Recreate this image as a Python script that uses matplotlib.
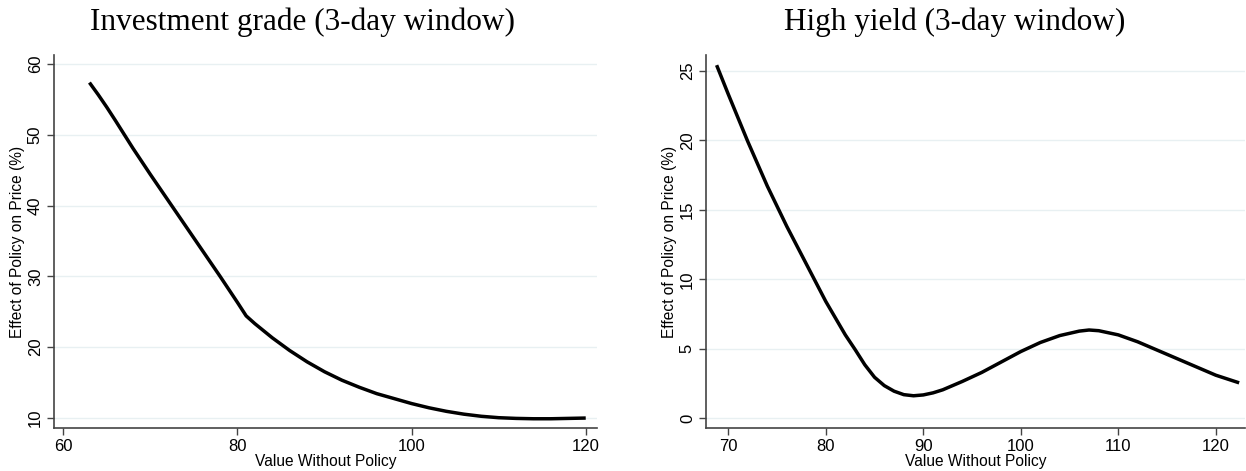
import matplotlib.pyplot as plt

# investment grade curve
ig_x = [63, 64, 65, 66, 68, 70, 72, 74, 76, 78, 80, 81, 82, 84, 86, 88, 90,
        92, 94, 96, 98, 100, 102, 104, 106, 108, 110, 112, 114, 116, 118, 120]
ig_y = [57.4, 55.7, 53.9, 52.0, 48.1, 44.4, 40.8, 37.2, 33.6, 30.0, 26.3, 24.4,
        23.3, 21.3, 19.5, 17.9, 16.5, 15.3, 14.3, 13.4, 12.7, 12.0, 11.4, 10.9,
        10.5, 10.2, 10.0, 9.9, 9.85, 9.85, 9.9, 9.95]

# high yield curve
hy_x = [68.8, 70, 72, 74, 76, 78, 80, 82, 83, 84, 85, 86, 87, 88, 89, 90, 91,
        92, 94, 96, 98, 100, 102, 104, 106, 107, 108, 110, 112, 114, 116, 118,
        120, 122.4]
hy_y = [25.4, 23.3, 19.9, 16.7, 13.8, 11.1, 8.4, 6.0, 4.95, 3.85, 2.95, 2.35,
        1.95, 1.7, 1.62, 1.68, 1.83, 2.05, 2.65, 3.3, 4.05, 4.8, 5.45, 5.95,
        6.27, 6.35, 6.3, 6.0, 5.5, 4.9, 4.3, 3.7, 3.1, 2.55]

ig_xticks = [60, 80, 100, 120]
ig_yticks = [10, 20, 30, 40, 50, 60]
hy_xticks = [70, 80, 90, 100, 110, 120]
hy_yticks = [0, 5, 10, 15, 20, 25]

plt.rcParams['font.family'] = ['Liberation Sans', 'DejaVu Sans']

fig = plt.figure(figsize=(12.46, 4.71), dpi=100)
ax1 = fig.add_axes([54/1246, 1 - 428.3/471, (596.7 - 54)/1246, (428.3 - 55)/471])
ax2 = fig.add_axes([706/1246, 1 - 428.3/471, (1245 - 706)/1246, (428.3 - 55)/471])

panels = [
    (ax1, ig_x, ig_y, ig_xticks, ig_yticks, (58.93, 121.26), (8.5, 61.3)),
    (ax2, hy_x, hy_y, hy_xticks, hy_yticks, (67.71, 123.0), (-0.72, 26.13)),
]
for ax, x, y, xt, yt, xl, yl in panels:
    ax.plot(x, y, color='black', lw=2.5, solid_capstyle='butt')
    ax.set_xlim(*xl)
    ax.set_ylim(*yl)
    ax.set_xticks(xt)
    ax.set_yticks(yt)
    ax.set_yticklabels([str(v) for v in yt], rotation=90, va='center')
    ax.grid(axis='y', color='#e8f0f2', lw=1)
    ax.set_axisbelow(True)
    for s in ['top', 'right']:
        ax.spines[s].set_visible(False)
    for s in ['left', 'bottom']:
        ax.spines[s].set_color('#444444')
        ax.spines[s].set_linewidth(1.2)
    ax.tick_params(labelsize=12, color='#444444', length=5, width=1, pad=3)
    ax.set_xlabel('Value Without Policy', fontsize=11.2, labelpad=0)
    ax.set_ylabel('Effect of Policy on Price (%)', fontsize=11.2, labelpad=2)

fig.text(302/1246, 1 - 22/471, 'Investment grade (3-day window)', ha='center',
         va='center', fontsize=22.5, family=['Liberation Serif', 'DejaVu Serif'])
fig.text(955/1246, 1 - 22/471, 'High yield (3-day window)', ha='center',
         va='center', fontsize=22.5, family=['Liberation Serif', 'DejaVu Serif'])

fig.savefig('out.png', dpi=100, facecolor='white')
